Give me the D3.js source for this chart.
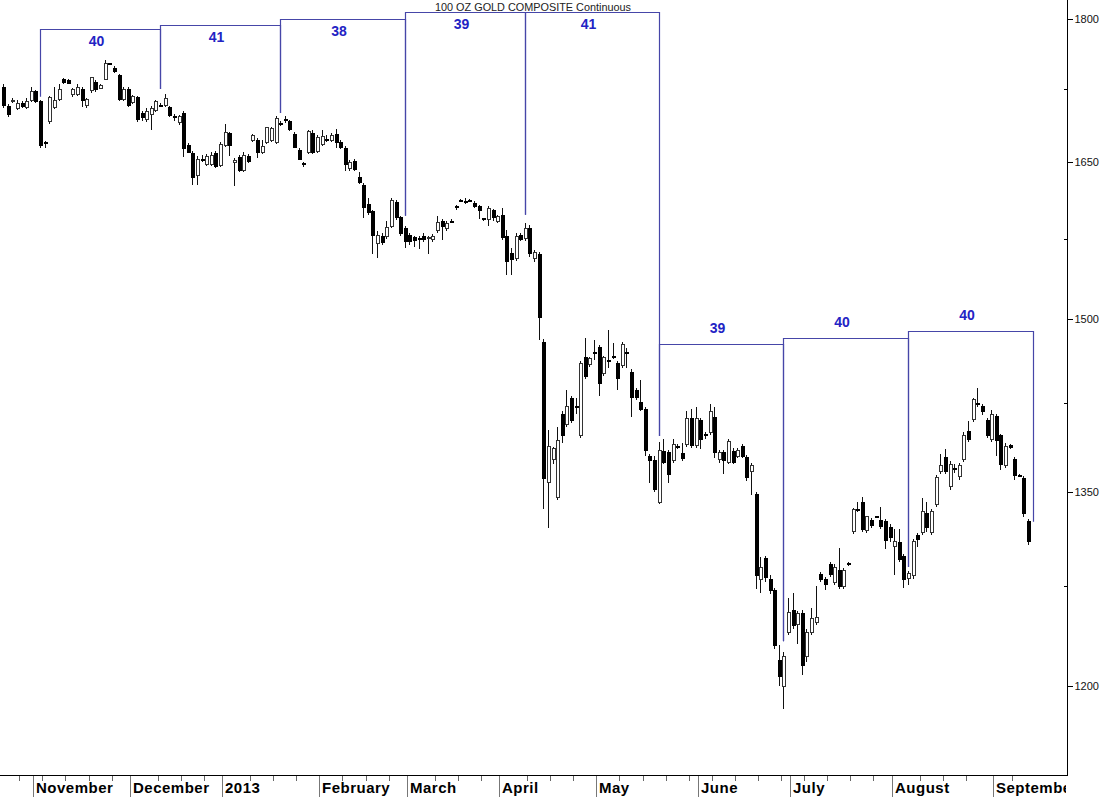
<!DOCTYPE html>
<html>
<head>
<meta charset="utf-8">
<script src="https://cdn.jsdelivr.net/npm/d3@7"></script>
<style>
  body { margin: 0; background: #fff; }
  svg { display: block; font-family: "Liberation Sans", Arial, sans-serif; }
</style>
</head>
<body>
<svg></svg>
<script>
// daily OHLC, one value per trading day (late Oct 2012 .. mid Sep 2013)
var opens = [1727,1707,1712,1705,1710,1706,1713,1722,1712,1670,
  1691,1706,1714,1735,1734,1719,1719,1725,1708,1723,
  1732,1726,1735,1752,1747,1739,1714,1725,1711,1716,
  1700,1693,1698,1703,1708,1708,1706,1696,1690,1700,
  1667,1659,1637,1653,1648,1648,1659,1647,1667,1679,
  1650,1655,1642,1656,1672,1672,1660,1670,1672,1670,
  1689,1693,1691,1678,1662,1649,1660,1679,1661,1668,
  1673,1672,1678,1670,1664,1644,1651,1635,1627,1608,
  1601,1570,1577,1577,1587,1610,1595,1585,1578,1576,
  1575,1577,1575,1574,1583,1592,1585,1592,1606,1612,
  1611,1612,1609,1606,1594,1593,1602,1592,1597,1577,
  1561,1556,1578,1575,1585,1556,1560,1479,1358,1377,
  1346,1415,1407,1429,1422,1397,1465,1459,1470,1474,
  1451,1463,1466,1460,1458,1470,1452,1436,1426,1420,
  1380,1376,1342,1384,1383,1376,1388,1382,1390,1412,
  1389,1410,1398,1400,1413,1377,1383,1375,1384,1380,
  1388,1379,1367,1348,1280,1297,1280,1272,1219,1200,
  1240,1256,1246,1254,1222,1240,1247,1284,1280,1292,
  1278,1287,1275,1293,1318,1336,1342,1319,1327,1330,
  1327,1326,1321,1306,1309,1298,1281,1283,1315,1317,
  1333,1317,1340,1367,1379,1355,1370,1363,1377,1401,
  1411,1425,1422,1410,1394,1414,1397,1372,1389,1377,
  1364,1361,1326];

var highs = [1730,1709,1716,1713,1712,1716,1727,1724,1714,1671,
  1718,1727,1730,1737,1736,1726,1730,1727,1716,1738,
  1734,1730,1756,1753,1749,1741,1727,1727,1719,1718,
  1702,1705,1707,1714,1710,1720,1707,1699,1698,1702,
  1669,1661,1656,1657,1658,1660,1661,1670,1689,1681,
  1654,1657,1660,1658,1678,1674,1672,1686,1686,1697,
  1692,1697,1693,1680,1664,1650,1683,1683,1677,1683,
  1677,1679,1684,1672,1666,1652,1653,1640,1629,1614,
  1603,1582,1580,1592,1614,1612,1597,1587,1580,1578,
  1578,1580,1578,1579,1597,1594,1592,1594,1608,1613,
  1614,1613,1611,1608,1595,1607,1604,1598,1605,1583,
  1566,1580,1580,1590,1588,1564,1562,1482,1402,1388,
  1405,1418,1437,1431,1430,1462,1483,1466,1481,1476,
  1467,1490,1478,1462,1479,1474,1455,1438,1445,1422,
  1382,1380,1392,1394,1385,1394,1390,1391,1418,1420,
  1422,1412,1400,1424,1422,1385,1385,1394,1387,1387,
  1390,1381,1374,1350,1298,1299,1284,1274,1230,1225,
  1266,1270,1256,1257,1242,1258,1275,1286,1282,1294,
  1292,1305,1289,1294,1337,1342,1346,1331,1329,1331,
  1338,1328,1324,1320,1320,1300,1287,1312,1317,1345,
  1342,1336,1364,1382,1386,1376,1373,1374,1400,1410,
  1430,1438,1424,1412,1419,1416,1399,1391,1390,1379,
  1365,1363,1328];

var lows = [1705,1696,1710,1703,1705,1704,1711,1710,1664,1664,
  1689,1704,1712,1730,1730,1717,1718,1706,1705,1721,
  1722,1725,1734,1750,1742,1712,1712,1706,1709,1691,
  1692,1691,1683,1701,1706,1706,1696,1692,1688,1655,
  1659,1627,1627,1650,1646,1646,1644,1645,1665,1656,
  1626,1640,1640,1649,1670,1654,1658,1668,1670,1668,
  1687,1690,1682,1664,1652,1645,1658,1658,1659,1666,
  1670,1670,1664,1663,1641,1641,1641,1628,1595,1598,
  1560,1557,1569,1575,1585,1593,1578,1566,1569,1567,
  1565,1572,1560,1572,1580,1574,1582,1590,1603,1611,
  1609,1611,1605,1594,1592,1587,1592,1590,1574,1541,
  1541,1554,1573,1573,1558,1553,1481,1336,1321,1373,
  1344,1391,1405,1408,1416,1395,1446,1457,1463,1431,
  1449,1456,1464,1437,1456,1456,1413,1428,1418,1380,
  1358,1350,1340,1373,1358,1374,1386,1376,1388,1387,
  1387,1386,1394,1398,1378,1374,1365,1373,1373,1378,
  1378,1359,1348,1273,1270,1278,1269,1227,1200,1183,
  1238,1242,1231,1208,1218,1238,1245,1278,1272,1282,
  1276,1273,1273,1291,1316,1334,1318,1317,1321,1329,
  1320,1304,1310,1284,1294,1274,1276,1281,1306,1315,
  1318,1315,1338,1365,1365,1352,1366,1360,1375,1392,
  1409,1422,1415,1395,1392,1380,1368,1370,1386,1360,
  1363,1330,1307];

var closes = [1708,1698,1713,1710,1707,1712,1722,1712,1667,1670,
  1716,1713,1725,1732,1731,1724,1727,1713,1714,1737,
  1724,1729,1752,1751,1743,1714,1725,1708,1717,1693,
  1695,1702,1705,1712,1707,1715,1697,1695,1696,1664,
  1660,1635,1653,1653,1656,1657,1646,1668,1680,1667,
  1652,1642,1657,1651,1677,1660,1666,1685,1684,1694,
  1689,1693,1683,1665,1653,1649,1681,1660,1675,1676,
  1673,1677,1670,1665,1648,1650,1643,1630,1605,1600,
  1578,1578,1571,1586,1612,1595,1580,1572,1572,1573,
  1575,1574,1576,1577,1591,1587,1590,1592,1606,1612,
  1611,1612,1606,1602,1594,1604,1595,1596,1576,1553,
  1555,1577,1574,1585,1561,1562,1501,1361,1388,1386,
  1393,1397,1422,1410,1422,1460,1448,1464,1470,1442,
  1465,1463,1465,1447,1477,1470,1430,1430,1420,1385,
  1376,1352,1385,1375,1365,1390,1388,1378,1412,1389,
  1412,1394,1398,1418,1383,1383,1376,1392,1375,1385,
  1380,1362,1372,1283,1290,1282,1272,1230,1207,1222,
  1255,1245,1254,1215,1240,1250,1251,1280,1276,1284,
  1290,1275,1287,1293,1336,1336,1320,1330,1323,1330,
  1322,1311,1313,1310,1296,1280,1285,1310,1312,1334,
  1321,1334,1362,1372,1367,1373,1370,1372,1397,1394,
  1428,1425,1418,1397,1415,1393,1373,1388,1387,1364,
  1364,1333,1310];

// x axis: month names and the index of their first trading day
var monthNames = ["November", "December", "2013", "February", "March", "April",
                  "May", "June", "July", "August", "September"];
var monthStart = [7, 28, 48, 69, 88, 108, 129, 151, 171, 193, 215];

// y axis labels
var priceTicks = [1200, 1350, 1500, 1650, 1800];
var priceMinor = [1275, 1425, 1575, 1725];

// cycle brackets: low index, where the bracket leg stops, top of each bracket, day count
var cycleLows   = [8, 34, 60, 87, 113, 142, 169, 196, 223];
var cycleLegEnd = [1717, 1725, 1700, 1597, 1598, 1397, 1233, 1290, 1326];
var cycleTops   = [1789, 1793, 1800, 1808, 1808, 1477, 1483, 1489];
var cycleCounts = [40, 41, 38, 39, 41, 39, 40, 40];

var title = "100 OZ GOLD COMPOSITE Continuous";

var width = 1100;
var height = 797;
var axisX = 1067.5;   // right price axis
var axisY = 775.5;    // bottom time axis

var svg = d3.select("svg")
            .attr("width", width)
            .attr("height", height)

var x = d3.scaleLinear()
          .domain([0, 222])
          .range([3.1, 3.1 + 222 * 4.617])
var step = x(1) - x(0);

var y = d3.scaleLog()
          .domain([1200, 1800])
          .range([686, 19])

var bars = d3.range(opens.length).map(function(i) {
    return { i: i, o: opens[i], h: highs[i], l: lows[i], c: closes[i] };
});

//--------------- candles ---------------------
var g = svg.append("g").attr("shape-rendering", "crispEdges")

g.selectAll("line.wick")
    .data(bars)
    .enter().append("line")
    .attr("class", "wick")
    .attr("x1", function(d) { return Math.round(x(d.i)) + 0.5; })
    .attr("x2", function(d) { return Math.round(x(d.i)) + 0.5; })
    .attr("y1", function(d) { return y(d.h); })
    .attr("y2", function(d) { return y(d.l); })
    .attr("stroke", "#111")
    .attr("stroke-width", 1)

g.selectAll("rect.body")
    .data(bars)
    .enter().append("rect")
    .attr("class", "body")
    .attr("x", function(d) { return Math.round(x(d.i)) - 1; })
    .attr("y", function(d) { return y(Math.max(d.o, d.c)); })
    .attr("width", 3)
    .attr("height", function(d) { return Math.max(1, Math.abs(y(d.o) - y(d.c))); })
    .attr("fill", function(d) { return d.c > d.o ? "#fff" : "#000"; })
    .attr("stroke", function(d) { return d.c > d.o ? "#333" : "#000"; })
    .attr("stroke-width", 1)

//--------------- cycle brackets ---------------------
var cyc = svg.append("g")
for (var k = 0; k < cycleCounts.length; k++) {
    var x0 = Math.round(x(cycleLows[k])) + 0.5;
    var x1 = Math.round(x(cycleLows[k + 1])) + 0.5;
    var yt = Math.round(y(cycleTops[k])) + 0.5;
    cyc.append("path")
        .attr("d", "M" + x0 + "," + y(cycleLegEnd[k]) + "V" + yt + "H" + x1 + "V" + y(cycleLegEnd[k + 1]))
        .attr("fill", "none")
        .attr("stroke", "#4646a8")
        .attr("stroke-width", 1.2)
    // label goes under the line near the top of the chart, above it lower down
    var below = yt < 100;
    cyc.append("text")
        .attr("x", (x0 + x1) / 2 - 4)
        .attr("y", below ? yt + 16 : yt - 12)
        .attr("text-anchor", "middle")
        .attr("font-size", 14)
        .attr("font-weight", "bold")
        .attr("fill", "#2323c4")
        .text(cycleCounts[k])
}

svg.append("text")
    .attr("x", 533)
    .attr("y", 11)
    .attr("text-anchor", "middle")
    .attr("font-size", 11)
    .attr("fill", "#222")
    .attr("textLength", 196)
    .attr("lengthAdjust", "spacingAndGlyphs")
    .text(title)

//--------------- axes ---------------------
var ax = svg.append("g").attr("shape-rendering", "crispEdges")

ax.append("line")
    .attr("x1", 0).attr("x2", axisX)
    .attr("y1", axisY).attr("y2", axisY)
    .attr("stroke", "#000")
ax.append("line")
    .attr("x1", axisX).attr("x2", axisX)
    .attr("y1", 0).attr("y2", axisY)
    .attr("stroke", "#000")

// price labels on the right
var yAxis = d3.axisRight(y)
    .tickValues(priceTicks)
    .tickFormat(d3.format("d"))
    .tickSize(5)
    .tickPadding(2)
var yg = ax.append("g")
    .attr("transform", "translate(" + axisX + ",0)")
    .call(yAxis)
yg.select(".domain").remove()
yg.selectAll("text")
    .attr("font-family", "'Liberation Sans', Arial, sans-serif")
    .attr("font-size", 11)
    .attr("fill", "#111")

ax.selectAll("line.minor")
    .data(priceMinor)
    .enter().append("line")
    .attr("class", "minor")
    .attr("x1", axisX - 4).attr("x2", axisX)
    .attr("y1", function(d) { return Math.round(y(d)) + 0.5; })
    .attr("y2", function(d) { return Math.round(y(d)) + 0.5; })
    .attr("stroke", "#000")

// weekly ticks under the time axis
var weeks = d3.range(4, opens.length, 5).filter(function(i) {
    return monthStart.every(function(m) { return Math.abs(m - i) > 1; });
});
ax.selectAll("line.week")
    .data(weeks)
    .enter().append("line")
    .attr("class", "week")
    .attr("x1", function(d) { return Math.round(x(d) - step / 2) + 0.5; })
    .attr("x2", function(d) { return Math.round(x(d) - step / 2) + 0.5; })
    .attr("y1", axisY).attr("y2", axisY + 5)
    .attr("stroke", "#666")

// month separators and names (last one is cut by the price axis)
svg.append("clipPath").attr("id", "xclip")
    .append("rect").attr("x", 0).attr("y", axisY).attr("width", axisX - 1.5).attr("height", 30)

var months = svg.append("g").attr("clip-path", "url(#xclip)")
months.selectAll("line.month")
    .data(monthStart)
    .enter().append("line")
    .attr("class", "month")
    .attr("shape-rendering", "crispEdges")
    .attr("x1", function(d) { return Math.round(x(d) - step / 2) + 0.5; })
    .attr("x2", function(d) { return Math.round(x(d) - step / 2) + 0.5; })
    .attr("y1", axisY).attr("y2", height)
    .attr("stroke", "#777")

months.selectAll("text")
    .data(monthStart)
    .enter().append("text")
    .attr("x", function(d) { return Math.round(x(d) - step / 2) + 3; })
    .attr("y", 793)
    .attr("font-size", 15)
    .attr("font-weight", "bold")
    .attr("letter-spacing", 0.5)
    .attr("fill", "#000")
    .text(function(d, i) { return monthNames[i]; })
</script>
</body>
</html>
